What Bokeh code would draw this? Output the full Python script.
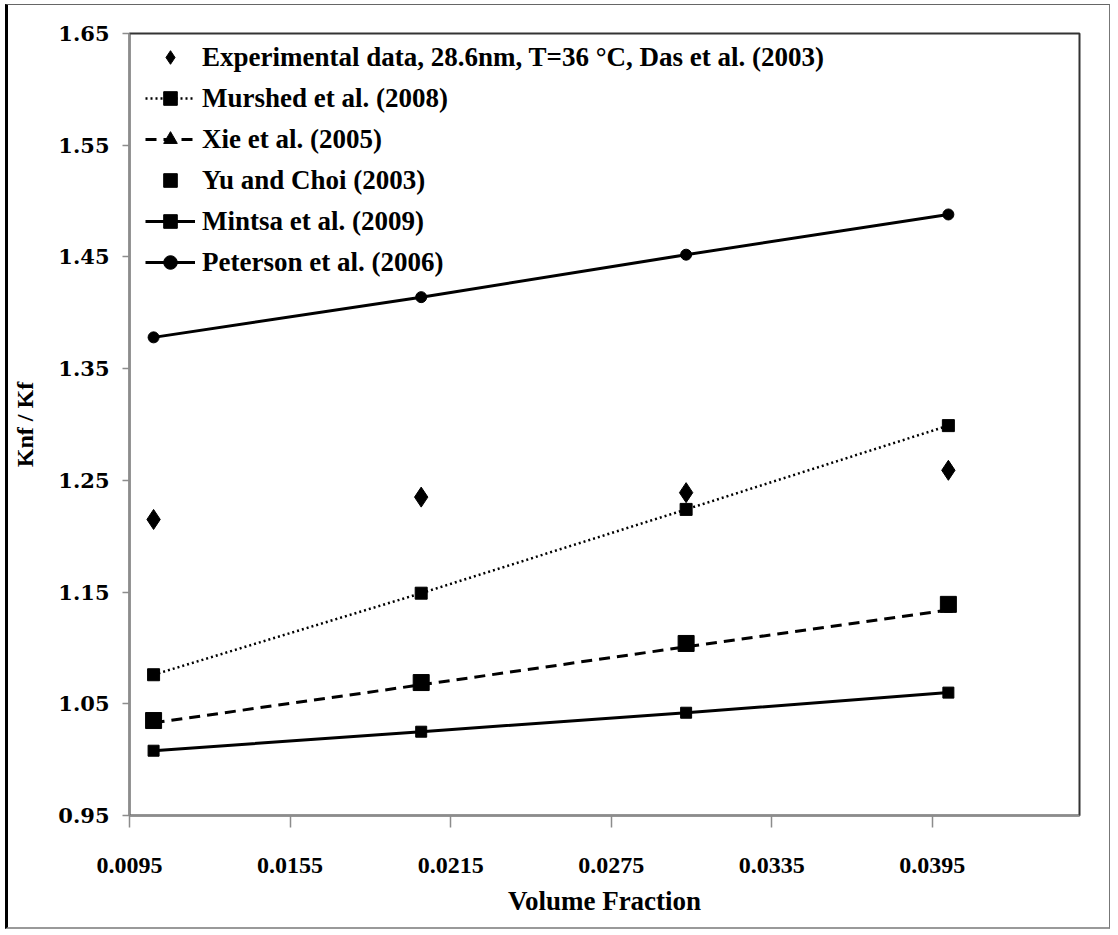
from bokeh.plotting import figure
from bokeh.models import (Range1d, FixedTicker, PrintfTickFormatter, Legend, LegendItem)
from bokeh.embed import file_html
from bokeh.resources import INLINE

# Volume fraction of particles
volume_fraction = [0.0104, 0.0204, 0.0303, 0.0401]

# Relative thermal conductivity knf/kf
experimental = [1.215, 1.235, 1.239, 1.259]
murshed = [1.076, 1.149, 1.224, 1.299]
xie = [1.033, 1.067, 1.101, 1.134]
yu_choi = [1.035, 1.069, 1.104, 1.139]
mintsa = [1.008, 1.025, 1.042, 1.060]
peterson = [1.378, 1.414, 1.452, 1.488]

x_ticks = [0.0095, 0.0155, 0.0215, 0.0275, 0.0335, 0.0395]
y_ticks = [0.95, 1.05, 1.15, 1.25, 1.35, 1.45, 1.55, 1.65]

SERIF = "Liberation Serif"
WIDE_SERIF = "DejaVu Serif"

FRAME_H = 782

p = figure(width=1105, height=925, output_backend="svg", toolbar_location=None,
           x_range=Range1d(0.0095, 0.045), y_range=Range1d(0.95, 1.65),
           min_border_left=121, min_border_right=34, min_border_top=28, min_border_bottom=115)
p.styles = {"margin-left": "5px", "margin-top": "4px",
            "border-left": "3px solid #000", "border-top": "1px solid #666",
            "border-right": "1px solid #777", "border-bottom": "2px solid #999"}

p.grid.visible = False
p.outline_line_color = "#333333"
p.outline_line_width = 2
p.background_fill_color = "white"
p.border_fill_color = "white"

for ax in (p.xaxis[0], p.yaxis[0]):
    ax.axis_line_color = "#8c8c8c"
    ax.axis_line_width = 1.5
    ax.major_tick_line_color = "#8c8c8c"
    ax.major_tick_line_width = 1.5
    ax.major_tick_in = 0
    ax.minor_tick_line_color = None
    ax.major_label_text_font_style = "bold"
    ax.major_label_text_color = "black"
    ax.axis_label_text_font = SERIF
    ax.axis_label_text_font_style = "bold"
    ax.axis_label_text_color = "black"

p.xaxis.ticker = FixedTicker(ticks=x_ticks)
p.xaxis.formatter = PrintfTickFormatter(format="%.4f")
p.xaxis.major_tick_out = 12
p.xaxis.major_label_text_font = SERIF
p.xaxis.major_label_text_font_size = "24px"
p.xaxis.major_label_standoff = 30
p.xaxis.axis_label = "Volume Fraction"
p.xaxis.axis_label_text_font_size = "27px"
p.xaxis.axis_label_standoff = 10

p.yaxis.ticker = FixedTicker(ticks=y_ticks)
p.yaxis.formatter = PrintfTickFormatter(format="%.2f")
p.yaxis.major_tick_out = 7
p.yaxis.major_label_text_font = WIDE_SERIF
p.yaxis.major_label_text_font_size = "21px"
p.yaxis.major_label_standoff = 13
p.yaxis.axis_label = "Knf / Kf"
p.yaxis.axis_label_text_font_size = "24px"
p.yaxis.axis_label_standoff = 17

# Model curves
r_mur_l = p.line(volume_fraction, murshed, line_color="black", line_width=2.5, line_dash="2 3")
r_mur_m = p.scatter(volume_fraction, murshed, marker="square", size=12, color="black")

r_xie_l = p.line(volume_fraction, xie, line_color="black", line_width=3, line_dash="11 7")
r_xie_m = p.scatter(volume_fraction, xie, marker="triangle", size=8, color="black")

r_yu_m = p.scatter(volume_fraction, yu_choi, marker="square", size=16, color="black")

r_min_l = p.line(volume_fraction, mintsa, line_color="black", line_width=3)
r_min_m = p.scatter(volume_fraction, mintsa, marker="square", size=11, color="black")

r_pet_l = p.line(volume_fraction, peterson, line_color="black", line_width=3)
r_pet_m = p.scatter(volume_fraction, peterson, marker="circle", size=11, color="black")

# Measurements
r_exp = p.scatter(volume_fraction, experimental, marker="diamond", size=20, color="black")

items = [
    LegendItem(label="Experimental data, 28.6nm, T=36 \u00b0C, Das et al. (2003)", renderers=[r_exp]),
    LegendItem(label="Murshed et al. (2008)", renderers=[r_mur_l, r_mur_m]),
    LegendItem(label="Xie et al. (2005)", renderers=[r_xie_l, r_xie_m]),
    LegendItem(label="Yu and Choi (2003)", renderers=[r_yu_m]),
    LegendItem(label="Mintsa et al. (2009)", renderers=[r_min_l, r_min_m]),
    LegendItem(label="Peterson et al. (2006)", renderers=[r_pet_l, r_pet_m]),
]

ROW_H, GAP, PAD = 34, 7, 5
legend_h = 2 * PAD + len(items) * ROW_H + (len(items) - 1) * GAP

# location gives the legend's lower-left corner, measured from the frame's lower-left
legend = Legend(items=items, location=(16, FRAME_H - legend_h + 3))
legend.background_fill_alpha = 0
legend.border_line_color = None
legend.label_text_font = SERIF
legend.label_text_font_style = "bold"
legend.label_text_font_size = "27px"
legend.label_text_color = "black"
legend.glyph_width = 50
legend.glyph_height = ROW_H
legend.label_height = ROW_H
legend.spacing = GAP
legend.label_standoff = 7
legend.margin = 0
legend.padding = PAD
p.add_layout(legend)

open("out.html", "w").write(file_html(p, INLINE))
